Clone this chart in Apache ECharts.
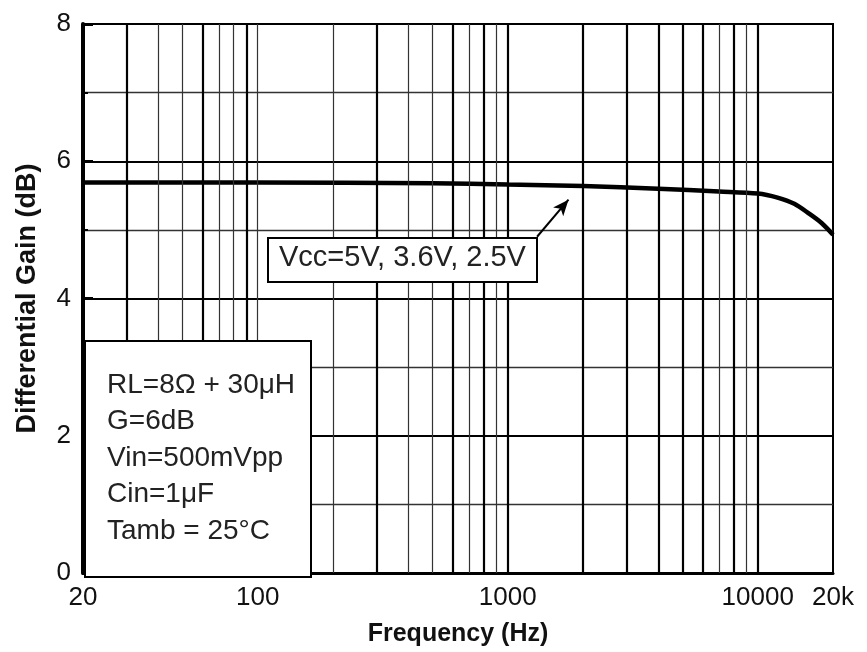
<!DOCTYPE html>
<html>
<head>
<meta charset="utf-8">
<script src="https://cdn.jsdelivr.net/npm/echarts@6/dist/echarts.min.js"></script>
<style>
html,body{margin:0;padding:0;background:#fff;}
#chart{width:867px;height:652px;}
</style>
</head>
<body>
<div id="chart"></div>
<script>
// ---- data ----
var freq = [20, 100, 500, 1000, 2000, 4000, 7000, 10000, 12000, 14000, 16000, 18000, 20000];
var gain = [5.69, 5.69, 5.68, 5.66, 5.64, 5.60, 5.56, 5.53, 5.47, 5.38, 5.24, 5.10, 4.93];
var xTickLabels = [20, 100, 1000, 10000, 20000];
var gridFreqs = [30, 40, 50, 60, 70, 80, 90, 100, 200, 300, 400, 500, 600, 700, 800, 900,
                 1000, 2000, 3000, 4000, 5000, 6000, 7000, 8000, 9000, 10000];
var conditions = ['RL=8\u03A9 + 30\u03BCH', 'G=6dB', 'Vin=500mVpp', 'Cin=1\u03BCF', 'Tamb = 25\u00B0C'];
var curveLabel = 'Vcc=5V, 3.6V, 2.5V';
var arrowFrom = [1310, 4.90];
var arrowTo = [1750, 5.44];

// ---- styles ----
var heavy = {30:1,60:1,90:1,300:1,600:1,800:1,1000:1,2000:1,3000:1,4000:1,5000:1,6000:1,8000:1,10000:1};
var FONT = '"Liberation Sans", Arial, sans-serif';

var chart = echarts.init(document.getElementById('chart'));
var points = freq.map(function (f, i) { return [f, gain[i]]; });

var gridMarks = gridFreqs.map(function (f) {
  return { xAxis: f, lineStyle: { color: heavy[f] ? '#000' : '#333', width: heavy[f] ? 2.2 : 1.2, type: 'solid' } };
});

var textEls = conditions.map(function (t, i) {
  return {
    type: 'text', left: 107, top: 387 + i * 36.5 - 16, z: 101,
    style: { text: t, font: '28px ' + FONT, fill: '#222' }
  };
});

chart.setOption({
  animation: false,
  grid: { left: 83, right: 34, top: 24, bottom: 76, show: true, borderColor: '#000', borderWidth: 2, backgroundColor: 'transparent' },
  xAxis: {
    type: 'log', logBase: 10, min: 20, max: 20000,
    name: 'Frequency (Hz)', nameLocation: 'middle', nameGap: 49,
    nameTextStyle: { fontFamily: FONT, fontWeight: 'bold', fontSize: 25, color: '#111' },
    axisLine: { show: true, onZero: false, lineStyle: { color: '#000', width: 3 } },
    axisTick: { show: false },
    axisLabel: {
      customValues: xTickLabels, margin: 12, fontFamily: FONT, fontSize: 26, color: '#111',
      showMinLabel: true, showMaxLabel: true,
      formatter: function (v) { return Math.round(v) === 20000 ? '20k' : String(Math.round(v)); }
    },
    splitLine: { show: false },
    minorTick: { show: false }, minorSplitLine: { show: false }
  },
  yAxis: {
    type: 'value', min: 0, max: 8, interval: 2,
    name: 'Differential Gain (dB)', nameLocation: 'middle', nameGap: 42, nameRotate: 90,
    nameTextStyle: { fontFamily: FONT, fontWeight: 'bold', fontSize: 27, color: '#111' },
    axisLine: { show: true, lineStyle: { color: '#000', width: 4 } },
    axisTick: { show: true, inside: true, length: 10, lineStyle: { color: '#000', width: 3 } },
    minorTick: { show: true, splitNumber: 2, length: 5, lineStyle: { color: '#000', width: 2 } },
    axisLabel: { margin: 12, fontFamily: FONT, fontSize: 26, color: '#111' },
    splitLine: { show: true, lineStyle: { color: '#000', width: 2 } },
    minorSplitLine: { show: true, lineStyle: { color: '#333', width: 1.3 } }
  },
  series: [
    {
      type: 'line', data: points, z: 1, symbol: 'none', silent: true,
      lineStyle: { opacity: 0 },
      markLine: { silent: true, symbol: 'none', label: { show: false }, data: gridMarks, animation: false }
    },
    {
      type: 'line', data: points, z: 3, symbol: 'none', smooth: 0.3,
      lineStyle: { color: '#000', width: 4.5 },
      markLine: {
        silent: true, symbol: ['none', 'arrow'], symbolSize: [10, 16], label: { show: false },
        lineStyle: { color: '#000', width: 2, type: 'solid' },
        data: [[{ coord: arrowFrom }, { coord: arrowTo }]], animation: false
      }
    }
  ],
  graphic: [
    { type: 'rect', left: 84, top: 340, z: 100, shape: { width: 226, height: 236 },
      style: { fill: '#fff', stroke: '#000', lineWidth: 2 } },
    { type: 'rect', left: 267, top: 237, z: 100, shape: { width: 269, height: 44 },
      style: { fill: '#fff', stroke: '#000', lineWidth: 2 } },
    { type: 'text', left: 279, top: 243, z: 101, style: { text: curveLabel, font: '29px ' + FONT, fill: '#222' } }
  ].concat(textEls)
});
</script>
</body>
</html>
